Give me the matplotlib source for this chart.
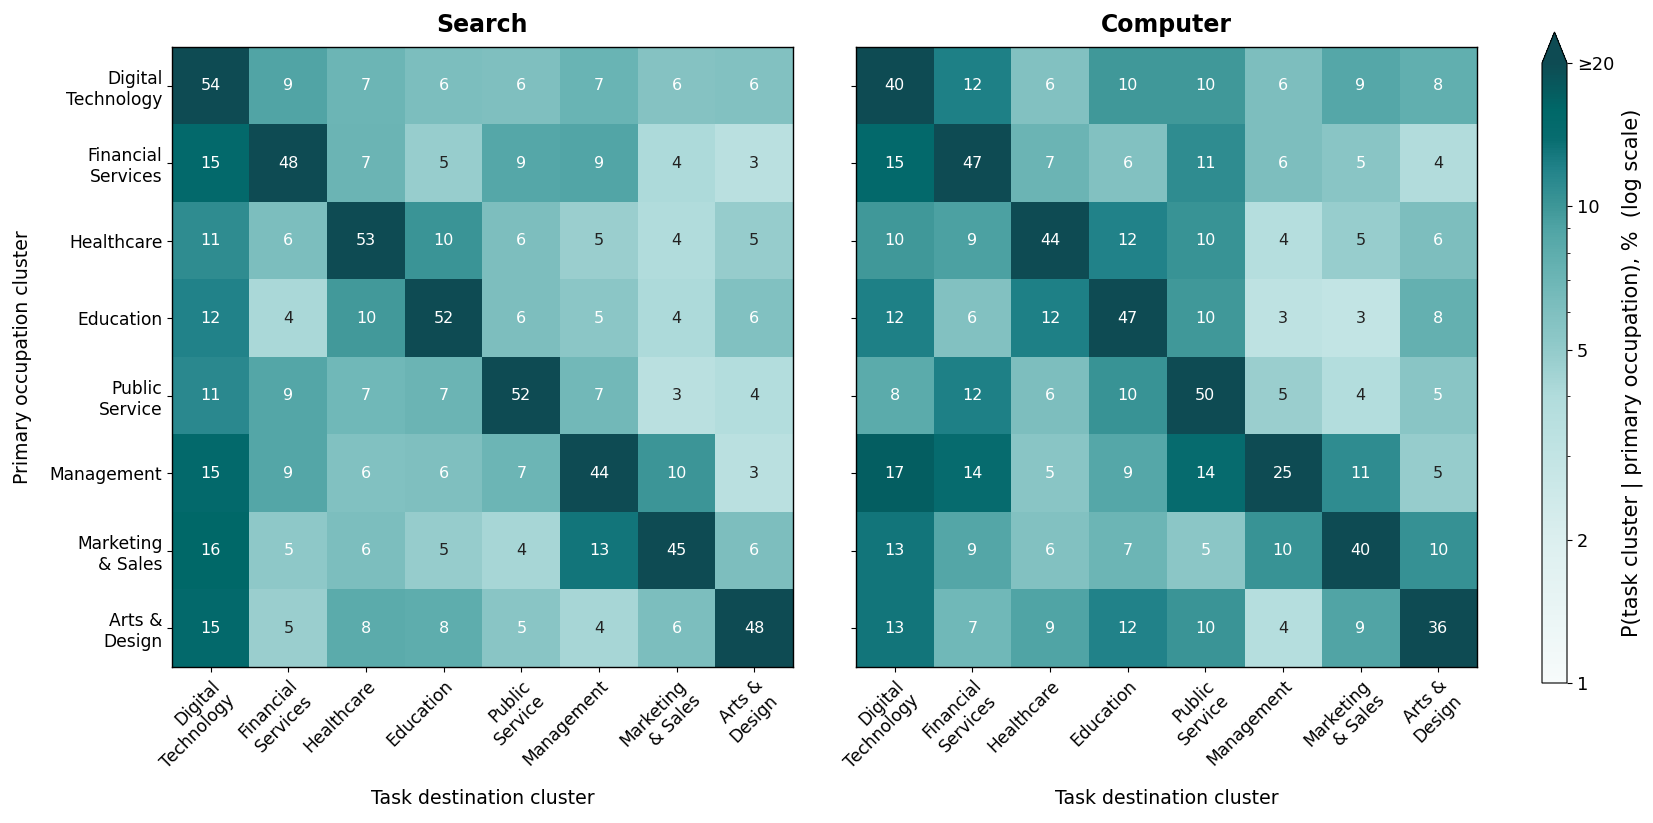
import numpy as np
import matplotlib
matplotlib.use("Agg")
import matplotlib.pyplot as plt
from matplotlib.colors import LinearSegmentedColormap, LogNorm

# ---------------- data ----------------
row_labels = ["Digital\nTechnology", "Financial\nServices", "Healthcare", "Education",
              "Public\nService", "Management", "Marketing\n& Sales", "Arts &\nDesign"]
col_labels = ["Digital\nTechnology", "Financial\nServices", "Healthcare", "Education",
              "Public\nService", "Management", "Marketing\n& Sales", "Arts &\nDesign"]

search_values = [
    [54, 8.9, 7.0, 6.2, 6.0, 7.2, 5.7, 5.8],
    [15, 48, 7.1, 4.8, 8.6, 8.8, 4.1, 3.4],
    [11, 6.2, 53, 10.2, 6.1, 4.7, 4.0, 4.9],
    [12, 4.2, 9.7, 52, 6.1, 5.3, 4.1, 5.9],
    [11.4, 8.7, 6.8, 7.1, 52, 6.7, 3.4, 3.8],
    [15, 8.7, 5.9, 6.0, 7.0, 44, 10.1, 3.4],
    [16, 5.2, 6.2, 4.9, 4.3, 13, 45, 6.1],
    [15, 4.7, 8.2, 8.0, 5.4, 4.3, 6.2, 48],
]

computer_values = [
    [40, 12.2, 5.8, 9.8, 9.9, 6.1, 8.6, 7.7],
    [15, 47, 7.1, 5.8, 11, 6.1, 5.4, 3.9],
    [9.8, 9.2, 44, 12, 10.3, 3.7, 4.8, 6.1],
    [12.2, 5.8, 12.2, 47, 9.9, 3.2, 3.0, 7.5],
    [8.2, 12.2, 6.1, 10.3, 50, 4.7, 3.8, 5.4],
    [17, 14, 5.4, 8.6, 14, 25, 11, 4.9],
    [13, 8.7, 5.8, 7.0, 5.3, 10.3, 40, 10.4],
    [13, 6.8, 9.0, 12, 10.2, 3.7, 8.9, 36],
]

panel_titles = ["Search", "Computer"]
cbar_ticks = [1, 2, 5, 10, 20]
cbar_ticklabels = ["1", "2", "5", "10", "\u226520"]

# ---------------- style ----------------
anchor_vals = [1, 2, 3, 4, 4.7, 5.3, 6, 7, 8, 9, 10, 12, 14, 16, 20]
anchor_cols = ["#f7fbfb", "#dcefef", "#c2e4e4", "#b1dcdc", "#9bcfcf", "#8cc7c7",
               "#80c0c0", "#6db6b6", "#5eadad", "#50a4a5", "#3e9798", "#22838a",
               "#076c6f", "#006868", "#0e4b53"]
pos = [np.log(v) / np.log(20) for v in anchor_vals]
cmap = LinearSegmentedColormap.from_list("tealmap", list(zip(pos, anchor_cols)))
cmap.set_over("#0e4b53")
norm = LogNorm(vmin=1, vmax=20)

W, H = 1653, 823
fig = plt.figure(figsize=(W / 100, H / 100), dpi=100)

ax_pos = [
    [172 / W, 1 - 667 / H, 621 / W, 620 / H],
    [856 / W, 1 - 667 / H, 621 / W, 620 / H],
]

TICK_FS = 12.3
LABEL_FS = 13.6
ANNOT_FS = 11.5

im = None
for k, (vals, title) in enumerate(zip([search_values, computer_values], panel_titles)):
    data = np.array(vals, dtype=float)
    ax = fig.add_axes(ax_pos[k])
    im = ax.imshow(data, cmap=cmap, norm=norm, aspect="auto", interpolation="nearest")
    n = data.shape[0]
    for i in range(n):
        for j in range(n):
            v = data[i, j]
            col = "white" if v >= 5.0 else "#222222"
            ax.text(j, i, f"{v:.0f}", ha="center", va="center", color=col,
                    fontsize=ANNOT_FS)
    ax.set_xticks(range(n))
    ax.set_yticks(range(n))
    ax.set_xticklabels(col_labels, rotation=45, ha="right", rotation_mode="anchor",
                       fontsize=TICK_FS)
    if k == 0:
        ax.set_yticklabels(row_labels, fontsize=TICK_FS)
        ax.set_ylabel("Primary occupation cluster", fontsize=LABEL_FS)
        ax.yaxis.set_label_coords(-0.225, 0.5)
    else:
        ax.set_yticklabels([])
    ax.set_xlabel("Task destination cluster", fontsize=LABEL_FS)
    ax.xaxis.set_label_coords(0.5, -0.197)
    ax.set_title(title, fontsize=17, fontweight="bold", pad=11)
    for s in ax.spines.values():
        s.set_linewidth(1.0)

cax = fig.add_axes([1542 / W, 1 - 683 / H, 25 / W, 651 / H])
cb = fig.colorbar(im, cax=cax, extend="max")
cb.set_ticks(cbar_ticks)
cb.set_ticklabels(cbar_ticklabels)
cb.ax.tick_params(labelsize=12.8)
cb.set_label("P(task cluster | primary occupation), %  (log scale)", fontsize=15,
             labelpad=5)

fig.savefig("out.png", dpi=100)
